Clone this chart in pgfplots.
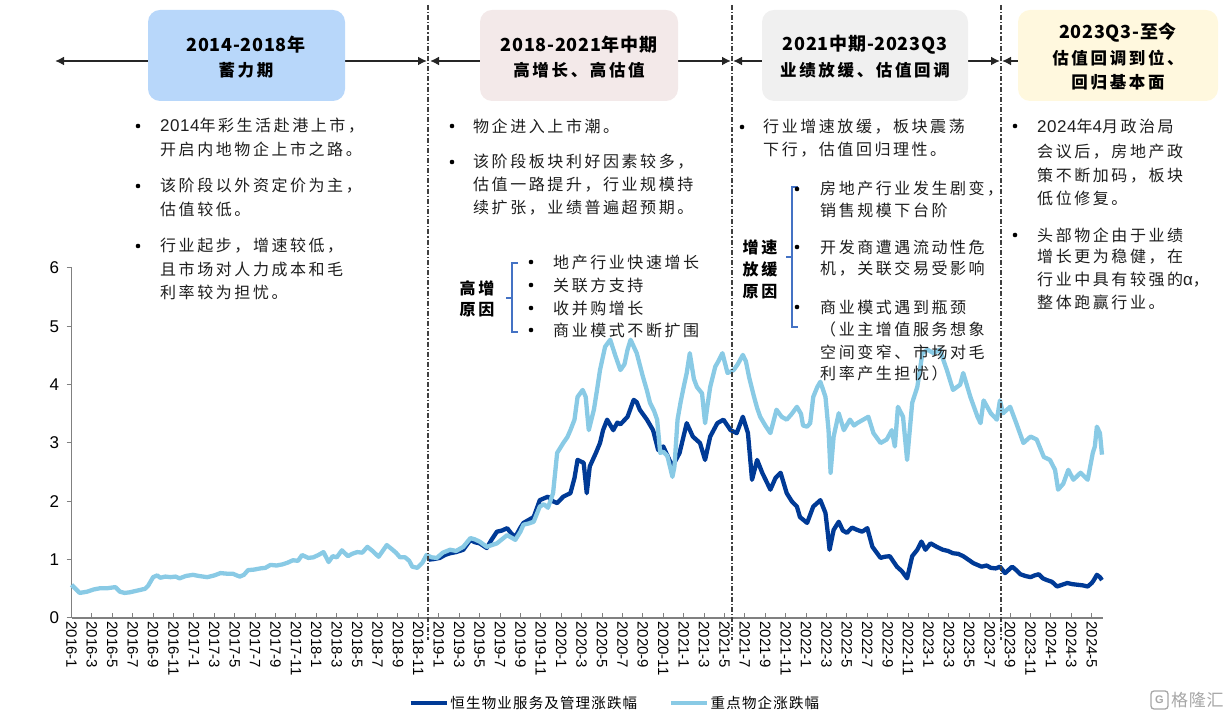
\documentclass[border=0pt]{standalone}
\usepackage{pgfplots}
\pgfplotsset{compat=1.18}
\usepackage{fontspec}
\usetikzlibrary{arrows.meta}
\setmainfont{Liberation Sans}
\newfontfamily\cjk[LetterSpace=16]{Noto Sans CJK SC}
\newfontfamily\cjkbox[LetterSpace=4]{Noto Sans CJK SC}
\newfontfamily\cjkleg[LetterSpace=8]{Noto Sans CJK SC}
\newfontfamily\latin[LetterSpace=3]{Liberation Sans}
\newcommand\lat[1]{{\latin\fontsize{17}{19}\selectfont #1}}
\definecolor{ltblue}{RGB}{137,202,229}
\definecolor{dkblue}{RGB}{0,58,150}
\definecolor{boxA}{RGB}{184,215,250}
\definecolor{boxB}{RGB}{243,233,233}
\definecolor{boxC}{RGB}{240,240,240}
\definecolor{boxD}{RGB}{255,248,222}
\definecolor{brk}{RGB}{68,114,196}
\definecolor{axgray}{RGB}{128,128,128}
\definecolor{txt}{RGB}{30,30,30}
\newcommand\bodyfont{\fontsize{16}{19}\selectfont\cjk}
\newcommand\T[3]{\node[anchor=west,inner sep=0pt,text=txt,font=\bodyfont] at (#1,#2) {#3};}
\newcommand\TB[3]{\node[inner sep=0pt,text=black,font=\bodyfont\bfseries] at (#1,#2) {#3};}
\newcommand\B[2]{\fill[black] (#1,#2) circle (2.3pt);}
\begin{document}
\begin{tikzpicture}[x=1pt,y=1pt]
\path[use as bounding box] (0,0) rectangle (1226,720);
% ---------- chart ----------
\begin{axis}[
  at={(71.5pt,102pt)}, anchor=south west,
  scale only axis, width=1031.5pt, height=350pt,
  xmin=0, xmax=101.1, ymin=0, ymax=6,
  axis x line*=bottom, axis y line*=left,
  axis line style={draw=axgray, line width=1.2pt},
  tick style={draw=axgray, line width=1pt},
  major tick length=5pt,
  xtick align=inside, ytick align=outside,
  ytick={0,1,2,3,4,5,6},
  xtick={0,2,...,100},
  xticklabels={2016-1,2016-3,2016-5,2016-7,2016-9,2016-11,2017-1,2017-3,2017-5,2017-7,2017-9,2017-11,2018-1,2018-3,2018-5,2018-7,2018-9,2018-11,2019-1,2019-3,2019-5,2019-7,2019-9,2019-11,2020-1,2020-3,2020-5,2020-7,2020-9,2020-11,2021-1,2021-3,2021-5,2021-7,2021-9,2021-11,2022-1,2022-3,2022-5,2022-7,2022-9,2022-11,2023-1,2023-3,2023-5,2023-7,2023-9,2023-11,2024-1,2024-3,2024-5},
  x tick label style={rotate=-90, anchor=west, font=\fontsize{15}{15}\selectfont, text=black},
  y tick label style={font=\fontsize{17}{17}\selectfont, text=black, xshift=-4pt},
  /pgf/number format/assume math mode=true,
  clip=false,
  legend style={at={(0.527,-0.243)}, anchor=center, draw=none, fill=none,
     font=\fontsize{14.5}{15}\selectfont\cjkleg, legend columns=2,
     /tikz/every even column/.append style={column sep=30pt}},
  legend image code/.code={\draw[#1, line width=3.5pt] (0pt,0pt) -- (36pt,0pt);},
]
\addplot[color=dkblue, line width=4.3pt, line join=round] table {
35 1.00
35.5 1.01
36.1 1.03
36.6 1.08
37.1 1.11
37.7 1.13
38.4 1.17
39.1 1.34
39.5 1.30
40.0 1.28
40.7 1.20
41.2 1.35
41.7 1.48
42.2 1.50
42.7 1.54
43.1 1.45
43.5 1.39
44.0 1.55
44.3 1.63
44.8 1.68
45.3 1.73
45.9 2.02
46.3 2.05
46.7 2.08
47.2 2.00
47.6 1.97
48.2 2.08
48.9 2.14
49.3 2.40
49.6 2.71
50.2 2.66
50.5 2.14
50.8 2.60
51.4 2.83
51.8 3.00
52.1 3.22
52.5 3.40
53.1 3.22
53.5 3.35
53.8 3.32
54.5 3.45
55.1 3.74
55.4 3.70
55.7 3.57
56.4 3.40
57.0 3.22
57.5 2.88
58.0 2.94
58.6 2.71
58.9 2.60
59.6 2.83
60.3 3.34
60.9 3.11
61.6 3.00
62.1 2.71
62.6 3.11
63.3 3.34
63.9 3.40
64.6 3.22
65.2 3.17
65.8 3.45
66.3 3.17
66.7 2.37
67.2 2.71
67.7 2.49
68.5 2.20
69.0 2.40
69.5 2.49
70.1 2.14
70.6 2.00
71.1 1.91
71.4 1.73
72.1 1.63
72.7 1.91
73.4 2.02
73.9 1.80
74.1 1.50
74.3 1.17
74.7 1.51
75.2 1.65
75.6 1.50
76.0 1.46
76.5 1.55
77.0 1.51
77.5 1.48
78.0 1.54
78.5 1.22
79.3 1.03
79.7 1.05
80.2 1.06
80.9 0.88
81.4 0.80
81.9 0.68
82.4 1.06
82.9 1.17
83.3 1.31
83.7 1.17
84.2 1.28
84.8 1.22
85.4 1.17
85.9 1.15
86.4 1.11
86.9 1.10
87.4 1.06
87.9 1.00
88.4 0.94
89.2 0.88
89.7 0.90
90.1 0.86
90.6 0.85
91.0 0.88
91.5 0.77
92.2 0.88
92.6 0.82
93.0 0.75
93.5 0.72
94.0 0.70
94.4 0.73
94.8 0.75
95.2 0.68
95.6 0.65
96.1 0.62
96.6 0.54
97.1 0.57
97.6 0.60
98.1 0.58
98.6 0.57
99.1 0.56
99.6 0.54
100.0 0.60
100.2 0.65
100.5 0.74
100.8 0.70
101.0 0.65
};
\addlegendentry{恒生物业服务及管理涨跌幅}
\addplot[color=ltblue, line width=4.3pt, line join=round] table {
0 0.57
0.4 0.50
0.8 0.43
1.5 0.45
2.2 0.49
2.8 0.51
3.5 0.51
4.3 0.53
4.75 0.45
5.2 0.43
5.7 0.44
6.2 0.46
6.7 0.48
7.2 0.50
7.5 0.55
8.0 0.70
8.4 0.73
8.7 0.69
9.2 0.71
9.7 0.70
10.2 0.71
10.6 0.68
11.2 0.72
11.9 0.74
12.5 0.72
13.3 0.70
14.0 0.73
14.6 0.77
15.2 0.76
15.8 0.76
16.2 0.73
16.5 0.71
16.9 0.74
17.3 0.82
17.9 0.83
18.5 0.85
19.0 0.86
19.5 0.91
20.1 0.90
20.7 0.92
21.2 0.95
21.7 0.99
22.2 0.98
22.6 1.08
23.2 1.03
23.7 1.04
24.2 1.08
24.7 1.13
25.2 0.96
25.6 1.06
26.0 1.04
26.5 1.16
27.1 1.06
27.5 1.10
28.0 1.13
28.5 1.12
29.0 1.22
29.5 1.15
30.1 1.05
30.5 1.15
30.9 1.25
31.4 1.18
31.8 1.12
32.2 1.04
32.7 1.04
33.1 0.98
33.4 0.88
33.9 0.86
34.4 0.95
34.8 1.08
35.3 1.04
35.8 1.03
36.4 1.12
37.1 1.17
37.7 1.15
38.4 1.22
39.1 1.37
39.5 1.35
40.0 1.31
40.7 1.22
41.2 1.25
41.7 1.28
42.2 1.35
42.7 1.42
43.1 1.38
43.5 1.34
44.0 1.48
44.3 1.60
44.8 1.62
45.3 1.65
45.9 1.91
46.3 1.95
46.7 1.89
47.2 2.14
47.6 2.83
48.2 3.00
48.6 3.10
48.9 3.22
49.3 3.40
49.6 3.79
50.1 3.91
50.4 3.79
50.7 3.22
51.2 3.57
51.5 3.90
51.8 4.25
52.3 4.65
52.8 4.77
53.3 4.50
53.8 4.25
54.2 4.35
54.5 4.60
54.8 4.77
55.4 4.54
56.0 4.14
56.4 3.90
56.7 3.69
57.1 3.55
57.4 3.40
57.7 2.83
58.0 2.85
58.4 2.78
58.9 2.42
59.1 2.60
59.4 3.40
59.7 3.70
60.0 3.96
60.3 4.20
60.6 4.54
61.0 4.10
61.3 3.96
61.8 3.85
62.1 3.34
62.3 3.60
62.6 3.96
63.1 4.31
63.4 4.40
63.8 4.54
64.3 4.20
64.9 4.25
65.3 4.35
65.8 4.51
66.1 4.40
66.4 4.14
66.9 3.79
67.2 3.60
67.5 3.45
68.0 3.30
68.5 3.17
69.1 3.57
69.6 3.45
70.1 3.40
70.6 3.50
71.1 3.62
71.5 3.50
71.7 3.30
72.1 3.28
72.4 3.34
72.7 3.79
73.1 3.96
73.4 4.05
73.9 3.79
74.2 3.22
74.4 2.49
74.7 3.11
75.2 3.51
75.7 3.22
76.3 3.40
76.7 3.30
77.0 3.34
77.6 3.40
78.1 3.45
78.6 3.17
79.3 3.00
79.9 3.06
80.4 3.22
80.7 2.94
81.0 3.62
81.5 3.45
81.9 2.71
82.4 3.69
82.9 3.96
83.4 4.54
83.9 4.60
84.5 4.54
85.1 4.60
85.5 4.40
85.8 4.25
86.4 3.91
87.1 4.00
87.4 4.20
88.1 3.79
88.8 3.45
89.1 3.34
89.4 3.73
90.1 3.51
90.7 3.40
91.0 3.73
91.3 3.51
92.0 3.62
92.6 3.34
93.3 3.00
94.0 3.11
94.6 3.06
95.3 2.76
95.9 2.71
96.4 2.54
96.7 2.20
97.2 2.30
97.7 2.54
98.2 2.37
98.9 2.49
99.6 2.37
100.1 2.83
100.3 2.94
100.5 3.28
100.8 3.17
101.0 2.80
};
\addlegendentry{重点物企涨跌幅}
\end{axis}
% ---------- vertical separators ----------
\foreach \xx in {428,732,1001}{
  \draw[black!75, line width=1.2pt, dash pattern=on 5pt off 2pt on 1.2pt off 2pt] (\xx,715) -- (\xx,80);
}
% ---------- timeline arrows ----------
\tikzset{tl/.style={draw=black!85, line width=2pt, -{Latex[length=9pt,width=9pt]}}}
\draw[tl] (148,659) -- (55,659);
\draw[tl] (345,659) -- (427,659);
\draw[tl] (480,659) -- (430,659);
\draw[tl] (678,659) -- (731,659);
\draw[tl] (762,659) -- (733,659);
\draw[tl] (968,659) -- (1000,659);
\draw[tl] (1018,659) -- (1002,659);
% ---------- boxes ----------
\fill[boxA, rounded corners=12pt] (148,619) rectangle (345,710);
\fill[boxB, rounded corners=12pt] (480,619) rectangle (678,710);
\fill[boxC, rounded corners=12pt] (762,619) rectangle (968,710);
\fill[boxD, rounded corners=12pt] (1018,619) rectangle (1218,710);
\tikzset{hd/.style={inner sep=0pt, text=black, font=\fontsize{18}{20}\selectfont\cjkbox\bfseries},
         hs/.style={inner sep=0pt, text=black, font=\fontsize{16.5}{19}\selectfont\cjk\bfseries}}
\node[hd] at (246,675) {2014-2018年};
\node[hs] at (246,650) {蓄力期};
\node[hd] at (579,675) {2018-2021年中期};
\node[hs] at (579,650) {高增长、高估值};
\node[hd] at (865,675) {2021中期-2023Q3};
\node[hs] at (865,650) {业绩放缓、估值回调};
\node[hd] at (1118,687) {2023Q3-至今};
\node[hs] at (1118,662) {估值回调到位、};
\node[hs] at (1118,638) {回归基本面};
% ---------- block 1 ----------
\B{138}{594}\T{160}{594}{\lat{2014}年彩生活赴港上市，}
\T{160}{571}{开启内地物企上市之路。}
\B{138}{534}\T{160}{534}{该阶段以外资定价为主，}
\T{160}{511}{估值较低。}
\B{138}{474}\T{160}{474}{行业起步，增速较低，}
\T{160}{451}{且市场对人力成本和毛}
\T{160}{428}{利率较为担忧。}
% ---------- block 2 ----------
\B{452}{594}\T{473}{594}{物企进入上市潮。}
\B{452}{558}\T{473}{558}{该阶段板块利好因素较多，}
\T{473}{535}{估值一路提升，行业规模持}
\T{473}{512}{续扩张，业绩普遍超预期。}
\TB{477}{432}{高增}
\TB{477}{410}{原因}
\draw[brk, line width=1.5pt] (518,457) -- (512,457) -- (512,388) -- (518,388);
\draw[brk, line width=1.5pt] (512,422) -- (506,422);
\B{531}{458}\T{553}{458}{地产行业快速增长}
\B{531}{435}\T{553}{435}{关联方支持}
\B{531}{412}\T{553}{412}{收并购增长}
\B{531}{390}\T{553}{390}{商业模式不断扩围}
% ---------- block 3 ----------
\B{742}{593}\T{763}{593}{行业增速放缓，板块震荡}
\T{763}{570}{下行，估值回归理性。}
\TB{760}{473}{增速}
\TB{760}{451}{放缓}
\TB{760}{428}{原因}
\draw[brk, line width=1.5pt] (798,533) -- (792,533) -- (792,393) -- (798,393);
\draw[brk, line width=1.5pt] (792,463) -- (786,463);
\B{797}{531}\T{820}{531}{房地产行业发生剧变，}
\T{820}{510}{销售规模下台阶}
\B{797}{473}\T{820}{473}{开发商遭遇流动性危}
\T{820}{451}{机，关联交易受影响}
\B{797}{413}\T{820}{413}{商业模式遇到瓶颈}
\T{820}{391}{（业主增值服务想象}
\T{820}{368}{空间变窄、市场对毛}
\T{820}{347}{利率产生担忧）}
% ---------- block 4 ----------
\B{1015}{594}\T{1037}{594}{\lat{2024}年\lat{4}月政治局}
\T{1037}{568}{会议后，房地产政}
\T{1037}{544}{策不断加码，板块}
\T{1037}{522}{低位修复。}
\B{1015}{485}\T{1037}{485}{头部物企由于业绩}
\T{1037}{463}{增长更为稳健，在}
\T{1037}{440}{行业中具有较强的\lat{α}，}
\T{1037}{418}{整体跑赢行业。}
% ---------- watermark ----------
\draw[black!35, line width=1.3pt, rounded corners=3pt] (1151,11) rectangle (1168,29);
\node[text=black!35, font=\fontsize{11}{11}\selectfont\bfseries, inner sep=0pt] at (1159.5,20) {G};
\node[anchor=west, inner sep=0pt, text=black!35, font=\fontsize{17}{17}\selectfont\cjkbox] at (1171,20) {格隆汇};
\end{tikzpicture}
\end{document}
